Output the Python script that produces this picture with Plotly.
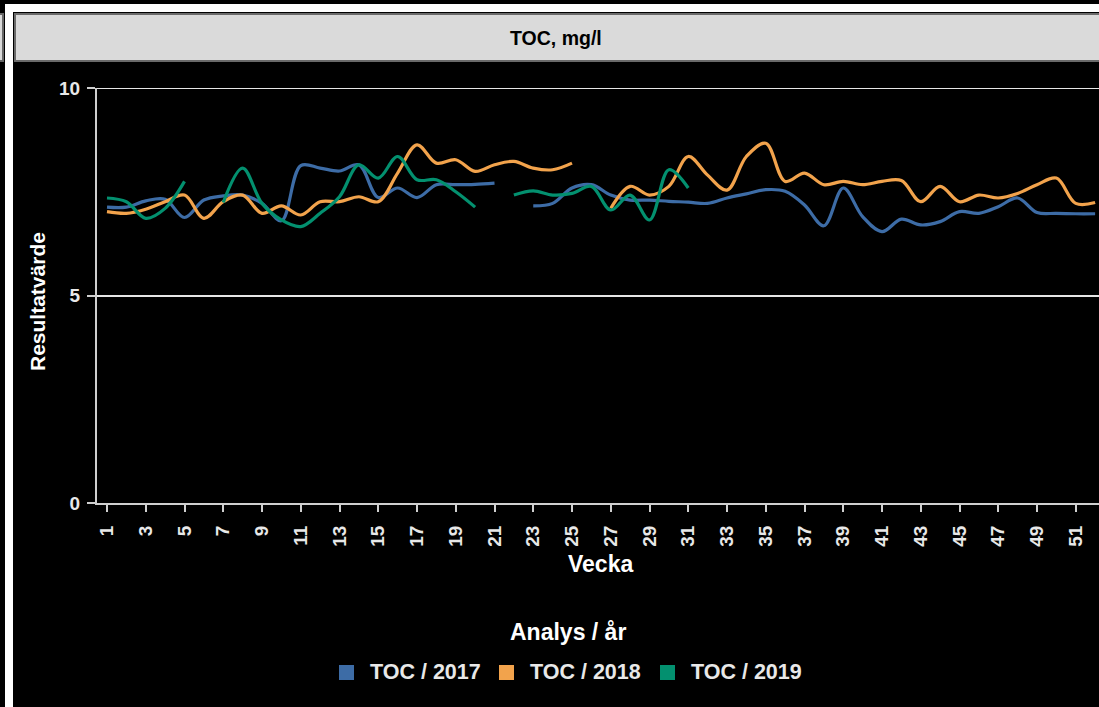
import plotly.graph_objects as go

weeks = list(range(1, 53))
tick_weeks = list(range(1, 52, 2))
tick_labels = [str(w) for w in tick_weeks]

toc_2017 = [7.13, 7.13, 7.28, 7.32, 6.88, 7.30, 7.40, 7.42, 7.22, 6.80,
            8.13, 8.07, 8.00, 8.15, 7.36, 7.59, 7.36, 7.67, 7.67, 7.68,
            7.71, None, 7.16, 7.22, 7.59, 7.67, 7.42, 7.30, 7.30, 7.27,
            7.25, 7.22, 7.35, 7.45, 7.55, 7.51, 7.18, 6.68, 7.59, 6.90,
            6.54, 6.84, 6.70, 6.78, 7.02, 6.98, 7.14, 7.35, 7.00, 6.98,
            6.97, 6.97]
toc_2018 = [7.02, 6.98, 7.08, 7.26, 7.42, 6.86, 7.26, 7.42, 6.98, 7.16,
            6.94, 7.26, 7.26, 7.38, 7.26, 7.95, 8.63, 8.19, 8.27, 7.99,
            8.15, 8.23, 8.07, 8.03, 8.19, None, 7.10, 7.63, 7.42, 7.63,
            8.35, 7.90, 7.54, 8.35, 8.67, 7.75, 7.95, 7.67, 7.75, 7.67,
            7.75, 7.77, 7.26, 7.63, 7.26, 7.42, 7.35, 7.46, 7.67, 7.83,
            7.22, 7.24]
toc_2019 = [7.35, 7.26, 6.86, 7.10, 7.75, None, 7.24, 8.07, 7.22, 6.82,
            6.66, 6.98, 7.38, 8.15, 7.83, 8.35, 7.79, 7.79, 7.50, 7.13,
            None, 7.42, 7.52, 7.42, 7.46, 7.63, 7.06, 7.42, 6.82, 8.03,
            7.59] + [None] * 21

series_names = ["TOC / 2017", "TOC / 2018", "TOC / 2019"]
series_values = [toc_2017, toc_2018, toc_2019]
series_colors = ["#3d6ca6", "#f2a34c", "#03906f"]

W_PX, H_PX = 1099, 707
L, T, R, B = 97, 88, 0, 204
PW = W_PX - L - R
PH = H_PX - T - B


def px(x):
    return (x - L) / PW


def py(y):
    return (T + PH - y) / PH


FONT = "Liberation Sans, Arial, sans-serif"
TXT = "#e8e8e8"

fig = go.Figure()
for name, vals, col in zip(series_names, series_values, series_colors):
    fig.add_trace(go.Scatter(
        x=weeks, y=vals, name=name, mode="lines",
        line=dict(color=col, width=3.2, shape="spline", smoothing=1.0),
        connectgaps=False, showlegend=False, hoverinfo="skip"))

shapes = []
annotations = []
# decorative frame pieces
shapes.append(dict(type="rect", xref="paper", yref="paper",
                   x0=px(5), x1=px(1105), y0=py(12), y1=py(4),
                   fillcolor="white", line=dict(width=0), layer="below"))
shapes.append(dict(type="rect", xref="paper", yref="paper",
                   x0=px(5), x1=px(13), y0=py(710), y1=py(4),
                   fillcolor="white", line=dict(width=0), layer="below"))
shapes.append(dict(type="rect", xref="paper", yref="paper",
                   x0=px(-4), x1=px(3), y0=py(61), y1=py(14),
                   fillcolor="#d9d9d9", line=dict(color="#666666", width=2)))
# header bar
shapes.append(dict(type="rect", xref="paper", yref="paper",
                   x0=px(15), x1=px(1104), y0=py(61), y1=py(14),
                   fillcolor="#dadada", line=dict(color="#6a6a6a", width=2)))
# top grid line at 10
shapes.append(dict(type="line", xref="paper", yref="y",
                   x0=0, x1=1, y0=10, y1=10,
                   line=dict(color="#e6e6e6", width=2)))
annotations.append(dict(text="TOC, mg/l", xref="paper", yref="paper",
                        x=px(556), y=py(38), xanchor="center", yanchor="middle",
                        showarrow=False,
                        font=dict(family=FONT, size=19.5, color="#000000", weight="bold")))
# axis titles
annotations.append(dict(text="Resultatvärde", xref="paper", yref="paper",
                        x=px(37), y=py(302), xanchor="center", yanchor="middle",
                        textangle=-90, showarrow=False,
                        font=dict(family=FONT, size=21, color="white", weight="bold")))
annotations.append(dict(text="Vecka", xref="paper", yref="paper",
                        x=px(600), y=py(564), xanchor="center", yanchor="middle",
                        showarrow=False,
                        font=dict(family=FONT, size=23, color="white", weight="bold")))
# legend (manual)
annotations.append(dict(text="Analys / år", xref="paper", yref="paper",
                        x=px(568), y=py(632), xanchor="center", yanchor="middle",
                        showarrow=False,
                        font=dict(family=FONT, size=23, color="white", weight="bold")))
leg_sq_x = [339, 499, 660]
for name, col, sx in zip(series_names, series_colors, leg_sq_x):
    shapes.append(dict(type="rect", xref="paper", yref="paper",
                       x0=px(sx), x1=px(sx + 15), y0=py(680), y1=py(665),
                       fillcolor=col, line=dict(width=0)))
    annotations.append(dict(text=name, xref="paper", yref="paper",
                            x=px(sx + 29), y=py(672), xanchor="left", yanchor="middle",
                            showarrow=False,
                            font=dict(family=FONT, size=21.5, color=TXT, weight="bold")))

fig.update_layout(
    width=W_PX, height=H_PX,
    margin=dict(l=L, r=R, t=T, b=B, pad=0),
    paper_bgcolor="black", plot_bgcolor="black",
    showlegend=False,
    shapes=shapes, annotations=annotations,
    xaxis=dict(range=[0.484, 52.2], tickmode="array", tickvals=tick_weeks,
               ticktext=tick_labels, tickangle=-90, ticks="outside", ticklen=7,
               tickwidth=2, tickcolor="#cfcfcf", showgrid=False, zeroline=False,
               showline=True, linecolor="#cfcfcf", linewidth=2,
               tickfont=dict(family=FONT, size=19, color=TXT, weight="bold"),
               ticklabelstandoff=6),
    yaxis=dict(range=[0, 10], tickvals=[0, 5, 10], ticktext=["0", "5", "10"],
               ticks="outside", ticklen=8, tickwidth=2, tickcolor="#cfcfcf",
               showgrid=True, gridcolor="#e6e6e6", gridwidth=2, zeroline=False,
               showline=True, linecolor="#cfcfcf", linewidth=2,
               tickfont=dict(family=FONT, size=19, color=TXT, weight="bold"),
               ticklabelstandoff=3),
)

fig.write_html(
    "out.html",
    config={"displayModeBar": False},
    post_script="document.body.style.margin='0';document.body.style.overflow='hidden';",
)
